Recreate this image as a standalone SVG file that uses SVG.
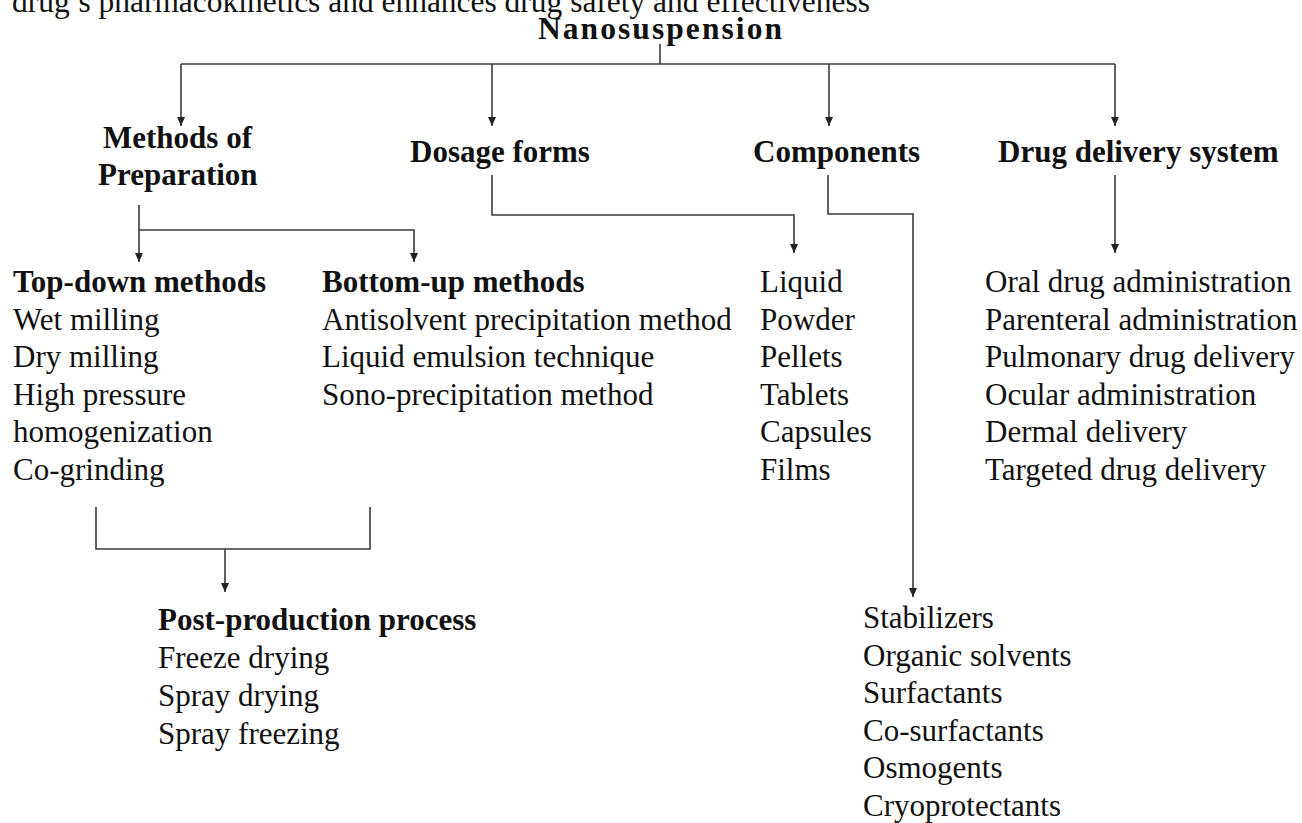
<svg xmlns="http://www.w3.org/2000/svg" width="1302" height="823" viewBox="0 0 1302 823">
<style>
text{font-family:"Liberation Serif","Times New Roman",serif;font-size:31px;fill:#111}
.b{font-weight:bold}
.t{font-size:31.5px}
.ln{fill:none;stroke:#3a3a3a;stroke-width:1.6}
</style>
<defs>
<marker id="ah" markerUnits="userSpaceOnUse" markerWidth="10" markerHeight="10" refX="9" refY="4" orient="auto">
<path d="M0,0 L9,4 L0,8 z" fill="#222"/>
</marker>
</defs>
<rect width="1302" height="823" fill="#fff"/>
<g id="caption"><text x="12" y="12" textLength="858" lengthAdjust="spacingAndGlyphs">drug’s pharmacokinetics and enhances drug safety and effectiveness</text></g>
<g id="nanosuspension"><text class="b t" x="538" y="39" textLength="244" lengthAdjust="spacing">Nanosuspension</text></g>
<g id="methods"><text class="b" x="103" y="148">Methods of</text><text class="b" x="98" y="185">Preparation</text></g>
<g id="dosage"><text class="b" x="410" y="162">Dosage forms</text></g>
<g id="components"><text class="b" x="753" y="162">Components</text></g>
<g id="dds"><text class="b" x="998" y="162">Drug delivery system</text></g>
<g id="topdown">
<text class="b" x="13" y="292">Top-down methods</text>
<text x="13" y="329.6">Wet milling</text>
<text x="13" y="367.2">Dry milling</text>
<text x="13" y="404.8">High pressure</text>
<text x="13" y="442.4">homogenization</text>
<text x="13" y="480">Co-grinding</text>
</g>
<g id="bottomup">
<text class="b" x="322" y="292">Bottom-up methods</text>
<text x="322" y="329.6">Antisolvent precipitation method</text>
<text x="322" y="367.2">Liquid emulsion technique</text>
<text x="322" y="404.8">Sono-precipitation method</text>
</g>
<g id="dosage-list">
<text x="760" y="292">Liquid</text>
<text x="760" y="329.6">Powder</text>
<text x="760" y="367.2">Pellets</text>
<text x="760" y="404.8">Tablets</text>
<text x="760" y="442.4">Capsules</text>
<text x="760" y="480">Films</text>
</g>
<g id="dds-list">
<text x="985" y="292">Oral drug administration</text>
<text x="985" y="329.6">Parenteral administration</text>
<text x="985" y="367.2">Pulmonary drug delivery</text>
<text x="985" y="404.8">Ocular administration</text>
<text x="985" y="442.4">Dermal delivery</text>
<text x="985" y="480">Targeted drug delivery</text>
</g>
<g id="postproduction">
<text class="b" x="158" y="630">Post-production process</text>
<text x="158" y="668">Freeze drying</text>
<text x="158" y="706">Spray drying</text>
<text x="158" y="744">Spray freezing</text>
</g>
<g id="components-list">
<text x="863" y="628">Stabilizers</text>
<text x="863" y="665.5">Organic solvents</text>
<text x="863" y="703">Surfactants</text>
<text x="863" y="740.5">Co-surfactants</text>
<text x="863" y="778">Osmogents</text>
<text x="863" y="815.5">Cryoprotectants</text>
</g>
<g id="connectors">
<path class="ln" d="M660,44 V64"/>
<path class="ln" d="M181,64 H1115"/>
<path class="ln" d="M181,64 V126" marker-end="url(#ah)"/>
<path class="ln" d="M492,64 V126" marker-end="url(#ah)"/>
<path class="ln" d="M829,64 V126" marker-end="url(#ah)"/>
<path class="ln" d="M1115,64 V126" marker-end="url(#ah)"/>
<path class="ln" d="M139,205 V262" marker-end="url(#ah)"/>
<path class="ln" d="M139,230 H414 V262" marker-end="url(#ah)"/>
<path class="ln" d="M492,175 V215 H794 V253" marker-end="url(#ah)"/>
<path class="ln" d="M828,175 V214 H913 V597" marker-end="url(#ah)"/>
<path class="ln" d="M1115,175 V253" marker-end="url(#ah)"/>
<path class="ln" d="M96,507 V549 H370 V507"/>
<path class="ln" d="M225,549 V592" marker-end="url(#ah)"/>
</g>
</svg>
